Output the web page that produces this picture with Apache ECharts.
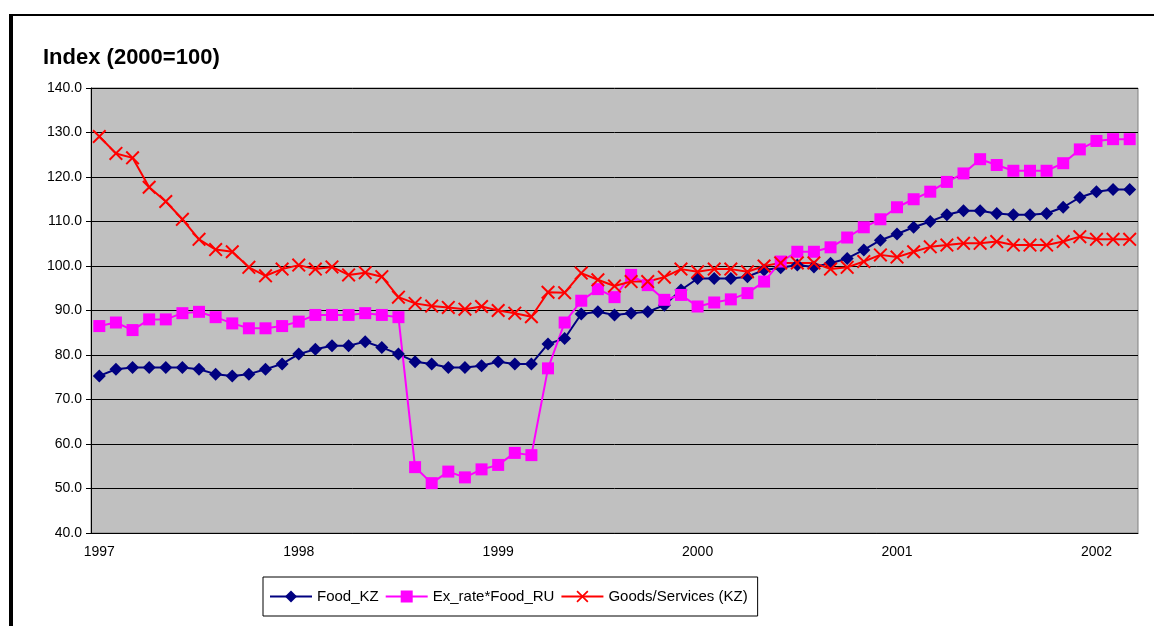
<!DOCTYPE html>
<html>
<head>
<meta charset="utf-8">
<script src="https://cdn.jsdelivr.net/npm/echarts@6/dist/echarts.min.js"></script>
<style>
    html, body { margin: 0; padding: 0; background: #fff; }
    #frame { position: absolute; left: 9px; top: 14px; width: 1200px; height: 700px;
        border-left: 4px solid #000; border-top: 2px solid #000; }
    #indexChart { position: absolute; left: 0; top: 0; width: 1154px; height: 626px; }
</style>
</head>
<body>
<div id="frame"></div>
<div id="indexChart"></div>
<script>
// monthly data, Jan 1997 - Mar 2002
var years = ['1997', '1998', '1999', '2000', '2001', '2002'];
var lastYearMonths = 3;

var foodKZ = [75.3, 76.8, 77.2, 77.2, 77.2, 77.2, 76.8, 75.7, 75.3, 75.7,
    76.8, 78.0, 80.2, 81.3, 82.1, 82.1, 83.0, 81.7, 80.2, 78.5,
    78.0, 77.2, 77.2, 77.6, 78.5, 78.0, 78.0, 82.5, 83.7, 89.2,
    89.7, 89.0, 89.4, 89.7, 91.2, 94.6, 97.2, 97.2, 97.2, 97.6,
    99.1, 99.6, 100.2, 99.8, 100.6, 101.7, 103.6, 105.8, 107.2, 108.7,
    110.0, 111.5, 112.4, 112.4, 111.8, 111.5, 111.5, 111.8, 113.2, 115.4,
    116.7, 117.2, 117.2];

var exRateFoodRU = [86.5, 87.3, 85.6, 88.0, 88.0, 89.4, 89.7, 88.5, 87.1, 86.0,
    86.0, 86.5, 87.5, 89.0, 89.0, 89.0, 89.4, 89.0, 88.5, 54.8,
    51.2, 53.8, 52.5, 54.3, 55.3, 58.0, 57.5, 77.0, 87.3, 92.2,
    94.8, 93.0, 98.0, 95.7, 92.4, 93.5, 90.9, 91.8, 92.5, 93.9,
    96.5, 101.0, 103.2, 103.2, 104.2, 106.4, 108.7, 110.5, 113.2, 115.0,
    116.7, 118.9, 120.8, 124.0, 122.7, 121.4, 121.4, 121.4, 123.1, 126.2,
    128.1, 128.5, 128.5];

var goodsServicesKZ = [129.1, 125.3, 124.3, 117.7, 114.5, 110.5, 106.0, 103.7, 103.2, 99.7,
    97.8, 99.3, 100.2, 99.3, 99.8, 98.0, 98.5, 97.6, 93.0, 91.6,
    91.0, 90.7, 90.3, 90.9, 90.0, 89.4, 88.6, 94.1, 94.0, 98.4,
    96.9, 95.5, 96.5, 96.5, 97.5, 99.3, 98.7, 99.3, 99.3, 98.7,
    100.0, 100.7, 100.7, 100.7, 99.3, 99.7, 101.0, 102.5, 102.0, 103.2,
    104.3, 104.7, 105.1, 105.1, 105.5, 104.7, 104.7, 104.7, 105.5, 106.6,
    106.0, 106.0, 106.0];

var yTicks = [40, 50, 60, 70, 80, 90, 100, 110, 120, 130, 140];

var months = [];
for (var y = 0; y < years.length; y++) {
    var n = (y == years.length - 1) ? lastYearMonths : 12;
    for (var m = 1; m <= n; m++) {
        months.push(years[y] + '-' + (m < 10 ? '0' + m : m));
    }
}

var fontName = 'Liberation Sans, Arial, sans-serif';
var crossPath = 'path://M0,1L1,0L5,4L9,0L10,1L6,5L10,9L9,10L5,6L1,10L0,9L4,5Z';

var chart = echarts.init(document.getElementById('indexChart'));
var option = {
    backgroundColor: 'transparent',
    animation: false,
    title: {
        text: 'Index (2000=100)',
        left: 38,
        top: 42,
        textStyle: {
            fontFamily: fontName,
            fontSize: 22,
            fontWeight: 'bold',
            color: '#000'
        }
    },
    legend: {
        left: 263,
        top: 577,
        padding: [12, 10, 12, 6],
        itemWidth: 42,
        itemHeight: 15,
        itemGap: 6,
        borderColor: '#000',
        borderWidth: 1,
        textStyle: {
            fontFamily: fontName,
            fontSize: 15,
            color: '#000'
        },
        data: ['Food_KZ', 'Ex_rate*Food_RU', 'Goods/Services (KZ)']
    },
    grid: {
        left: 91,
        right: 16,
        top: 88,
        bottom: 93,
        show: true,
        backgroundColor: '#C0C0C0',
        borderColor: '#808080',
        borderWidth: 1
    },
    xAxis: {
        type: 'category',
        boundaryGap: true,
        data: months,
        axisLine: { lineStyle: { color: '#000', width: 1 } },
        axisTick: { interval: 0, length: 5, lineStyle: { color: '#000' } },
        axisLabel: {
            interval: function (index) { return index % 12 === 0; },
            formatter: function (value) { return value.slice(0, 4); },
            margin: 12,
            fontFamily: fontName,
            fontSize: 14,
            color: '#000'
        },
        splitLine: { show: false }
    },
    yAxis: {
        type: 'value',
        min: yTicks[0],
        max: yTicks[yTicks.length - 1],
        interval: 10,
        axisLine: { show: true, lineStyle: { color: '#000', width: 1 } },
        axisTick: { show: true, length: 5, lineStyle: { color: '#000' } },
        axisLabel: {
            formatter: function (v) { return v.toFixed(1); },
            margin: 9,
            fontFamily: fontName,
            fontSize: 14,
            color: '#000'
        },
        splitLine: { lineStyle: { color: '#000', width: 1 } }
    },
    series: [
        {
            name: 'Food_KZ',
            type: 'line',
            data: foodKZ,
            symbol: 'diamond',
            symbolSize: 13,
            showAllSymbol: true,
            color: '#000080',
            lineStyle: { width: 2, color: '#000080' },
            itemStyle: { color: '#000080' }
        },
        {
            name: 'Ex_rate*Food_RU',
            type: 'line',
            data: exRateFoodRU,
            symbol: 'rect',
            symbolSize: 12,
            showAllSymbol: true,
            color: '#FF00FF',
            lineStyle: { width: 2, color: '#FF00FF' },
            itemStyle: { color: '#FF00FF' }
        },
        {
            name: 'Goods/Services (KZ)',
            type: 'line',
            data: goodsServicesKZ,
            symbol: crossPath,
            symbolSize: 14,
            showAllSymbol: true,
            color: '#FF0000',
            lineStyle: { width: 2, color: '#FF0000' },
            itemStyle: { color: '#FF0000' }
        }
    ]
};
chart.setOption(option);
</script>
</body>
</html>
